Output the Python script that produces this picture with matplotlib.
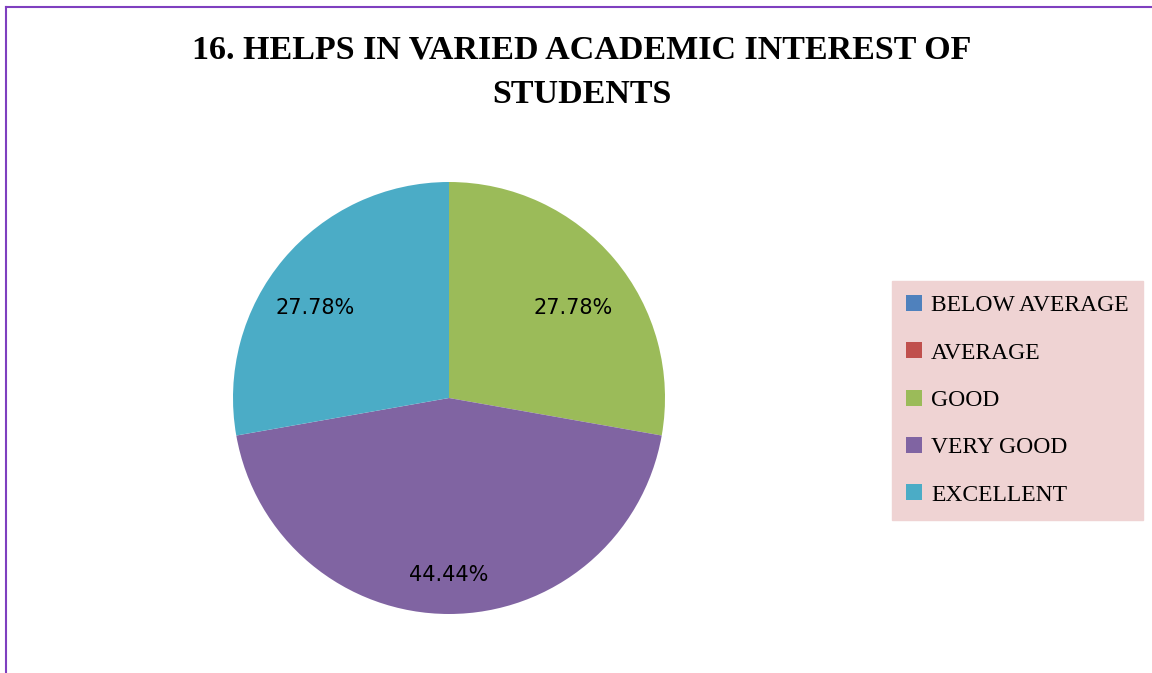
import numpy as np
import matplotlib.pyplot as plt
from matplotlib.lines import Line2D

labels = ['BELOW AVERAGE', 'AVERAGE', 'GOOD', 'VERY GOOD', 'EXCELLENT']
values = [0, 0, 27.78, 44.44, 27.78]
colors = ['#4F81BD', '#C0504D', '#9BBB59', '#8064A2', '#4BACC6']

title = '16. HELPS IN VARIED ACADEMIC INTEREST OF\nSTUDENTS'

fig = plt.figure(figsize=(11.52, 6.73), dpi=100)

# pie axes placed so the circle sits left of centre
cx, cy, r = 449 / 1152, 275 / 673, 216
ax = fig.add_axes([cx - r / 1152, cy - r / 673, 2 * r / 1152, 2 * r / 673])


def fmt(p):
    return '%.2f%%' % p if p > 0 else ''


wedges, texts, autotexts = ax.pie(values, colors=colors, startangle=90, counterclock=False,
                                  autopct=fmt, pctdistance=0.72,
                                  wedgeprops=dict(linewidth=0),
                                  textprops=dict(fontsize=15, family='DejaVu Sans', color='black'))
# Excel-like label placement: (radius, angle shift) per slice
lab_pos = [(0.7, 0), (0.7, 0), (0.71, -4), (0.82, 0), (0.745, 6)]
for w, t, (rr, sh) in zip(wedges, autotexts, lab_pos):
    th = np.deg2rad((w.theta1 + w.theta2) / 2 + sh)
    t.set_position((rr * np.cos(th), rr * np.sin(th)))
ax.set_xlim(-1, 1)
ax.set_ylim(-1, 1)

fig.text(0.505, 0.949, title, ha='center', va='top', fontsize=24.5, fontweight='bold',
         family='Liberation Serif', linespacing=1.55)

leg = fig.legend(wedges, labels, loc='upper left', bbox_to_anchor=(0.774, 0.5825),
                 frameon=True, fancybox=False, facecolor='#EFD3D3', edgecolor='#EFD3D3',
                 framealpha=1, prop=dict(family='Liberation Serif', size=17),
                 handlelength=0.67, handleheight=0.67, handletextpad=0.4,
                 labelspacing=1.1, borderpad=0.6, borderaxespad=0)

# purple border (top and left visible)
fig.add_artist(Line2D([5.5 / 1152, 5.5 / 1152], [0, 1 - 6.5 / 673], color='#7F3FBF', lw=1.5,
                      transform=fig.transFigure))
fig.add_artist(Line2D([5.5 / 1152, 1], [1 - 6.5 / 673, 1 - 6.5 / 673], color='#7F3FBF', lw=1.5,
                      transform=fig.transFigure))

fig.savefig('out.png', dpi=100)
